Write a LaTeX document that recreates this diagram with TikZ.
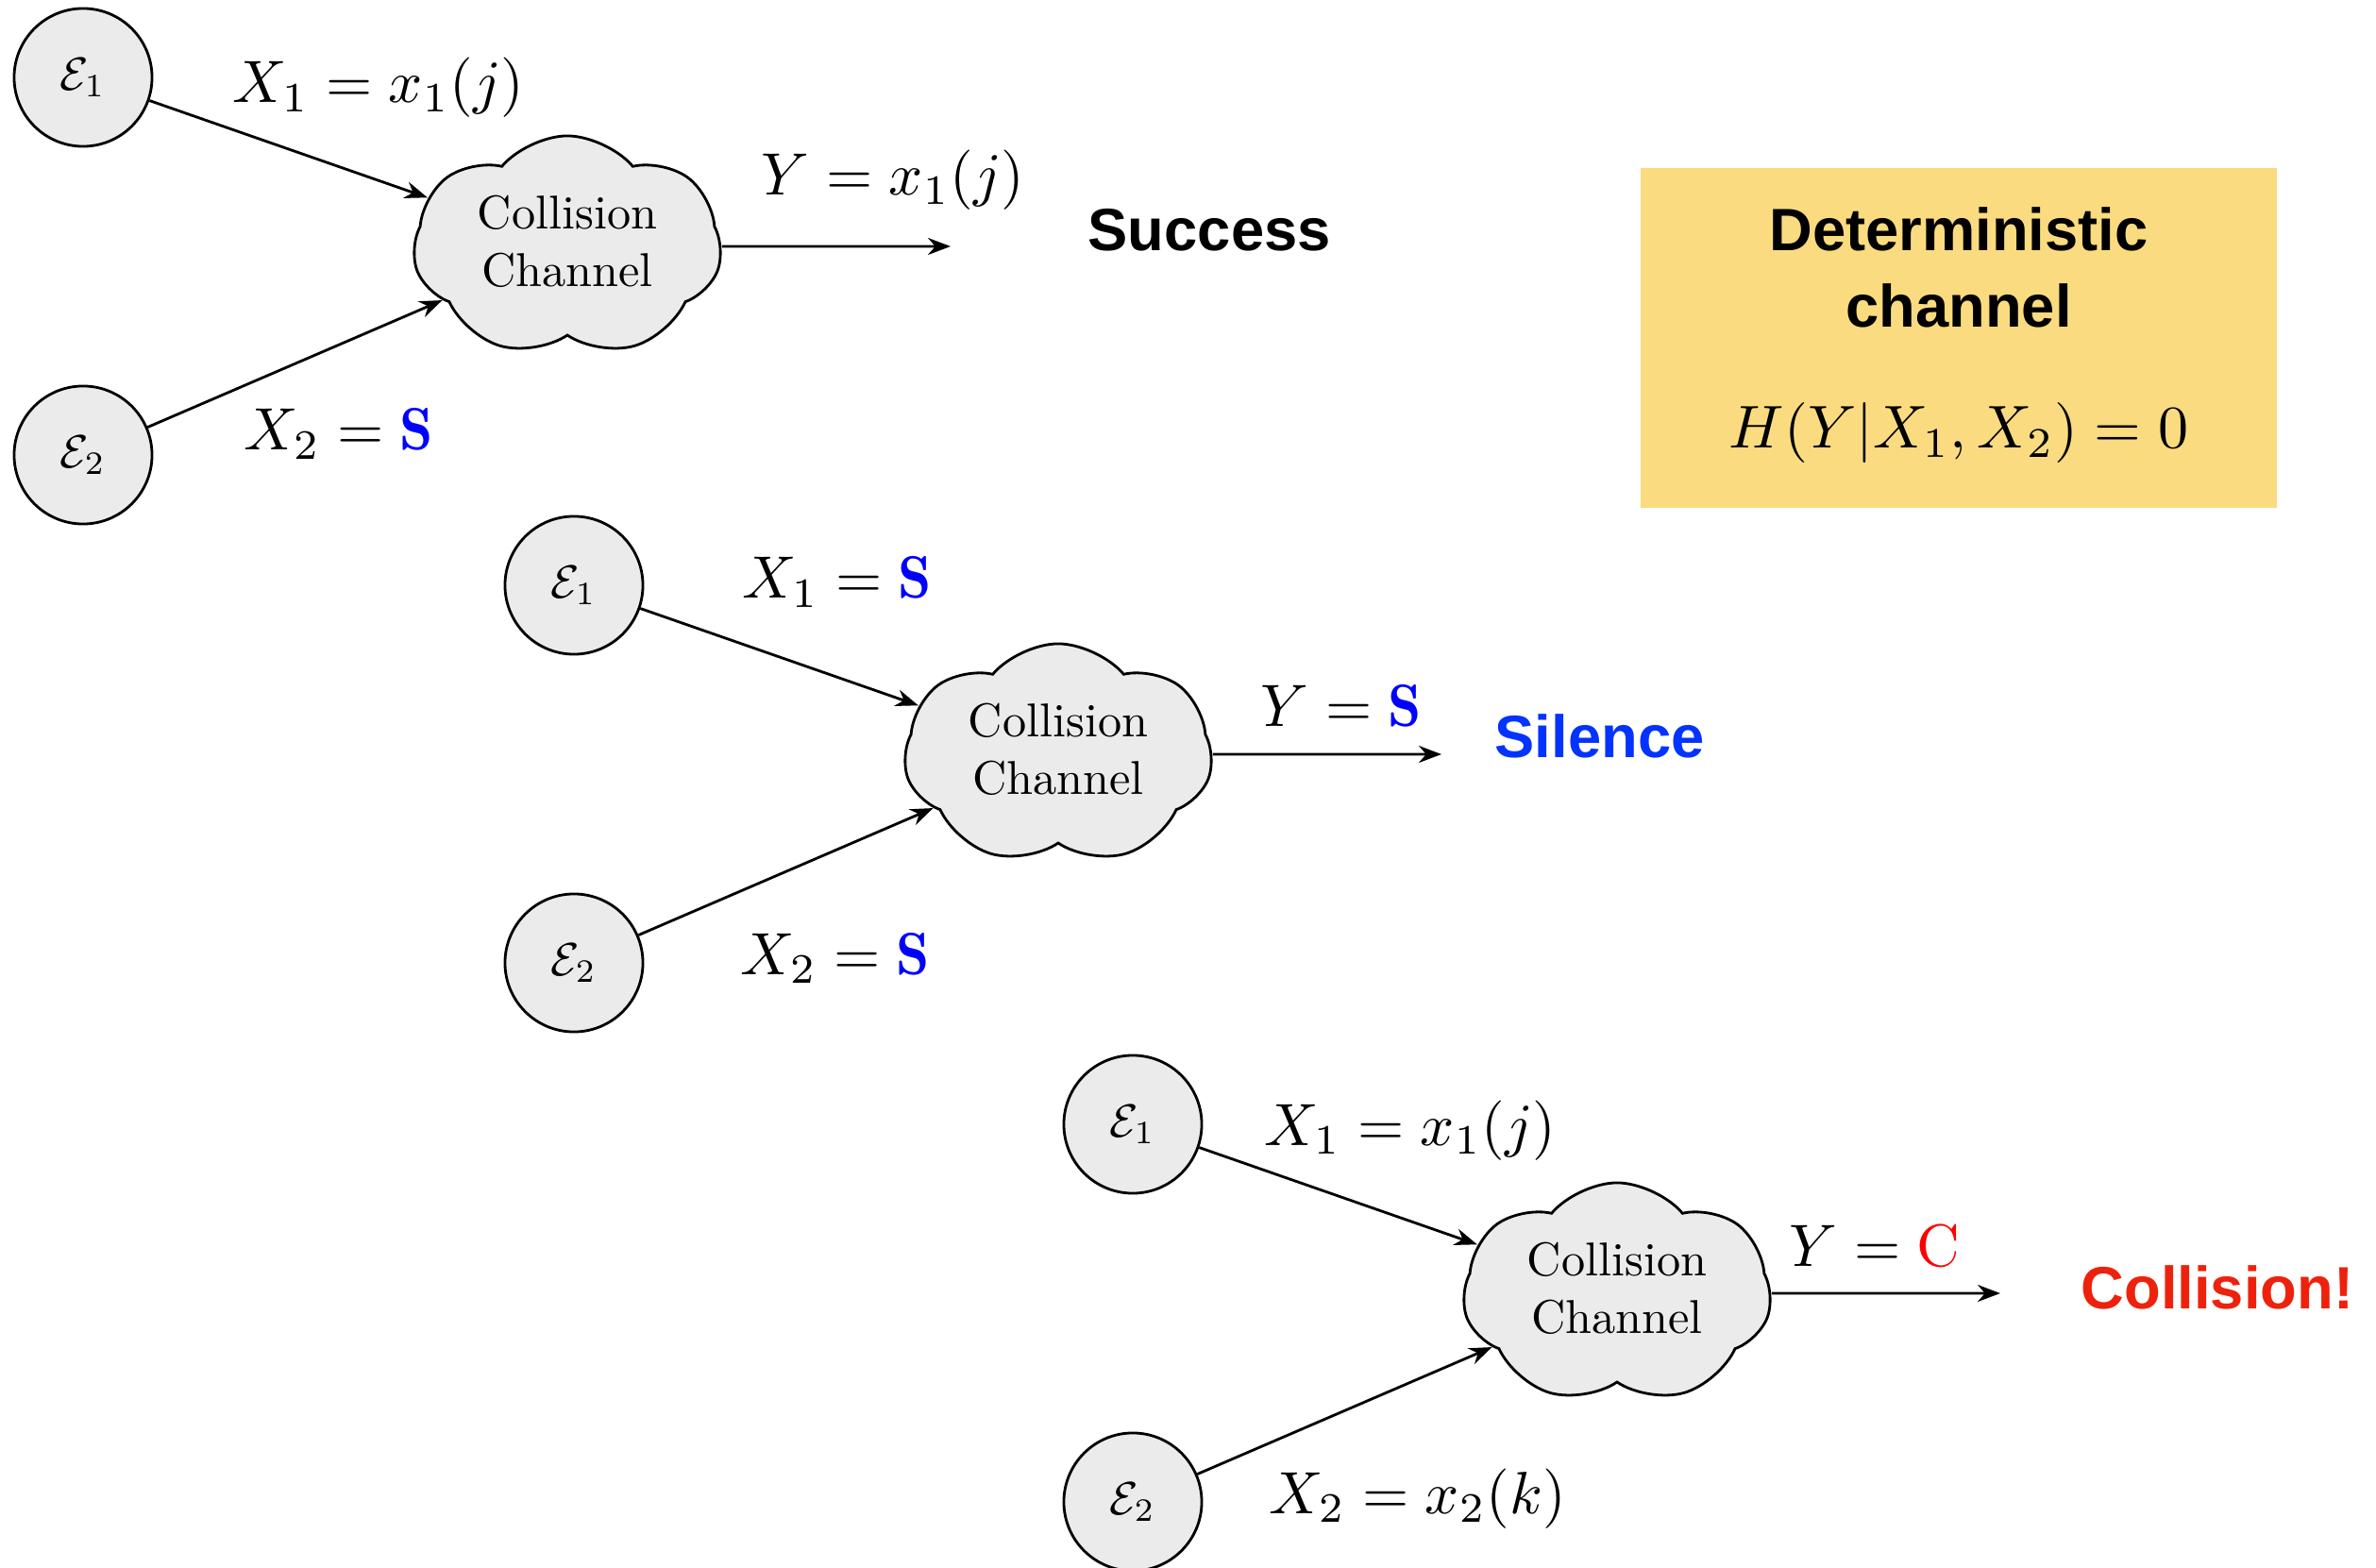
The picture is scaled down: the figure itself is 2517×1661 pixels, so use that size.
\documentclass[tikz,border=0pt]{standalone}
\usepackage{fontspec}
\usepackage{graphicx}
\newfontfamily\hel{Liberation Sans}
\usetikzlibrary{shapes.symbols,arrows.meta}
\definecolor{cloudgray}{HTML}{EBEBEB}
\definecolor{boxyellow}{HTML}{FADB7F}
\definecolor{silblue}{HTML}{0433FF}
\definecolor{colred}{HTML}{EE220C}
\newcommand{\ML}[1]{\scalebox{1.8}{$#1$}}
\newcommand{\SB}{\textcolor{blue}{\mathbf{S}}}
\newcommand{\CC}{\raisebox{-0.05cm}{\scalebox{1.43}{\begin{tabular}{@{}c@{}}Collision\\Channel\end{tabular}}}}
\newcommand{\EN}[1]{\scalebox{1.4}{$\mathcal{E}_{#1}$}}
\begin{document}
\begin{tikzpicture}[x=0.01cm,y=-0.01cm,
  ent/.style={circle,draw,fill=cloudgray,line width=0.8pt,minimum size=1.46cm,inner sep=0pt},
  chan/.style={cloud,cloud puffs=7,cloud puff arc=100,aspect=1.4,shape border rotate=10,draw,fill=cloudgray,line width=0.8pt,minimum width=3.26cm,minimum height=2.34cm,inner sep=0pt},
  conn/.style={-{Stealth[length=0.24cm,width=0.18cm]},line width=0.8pt},
  lab/.style={anchor=base west,inner sep=0pt},
  res/.style={anchor=base west,inner sep=0pt,font=\hel\bfseries\fontsize{18}{22}\selectfont}]
\useasboundingbox (0,0) rectangle (2517,1661);

% Group 1
\begin{scope}
\node[ent] (e11) at (88,82) {\EN{1}};
\node[ent] (e21) at (88,482) {\EN{2}};
\node[chan] (c1) at (601,261) {\CC};
\coordinate (o1) at (1007,261);
\draw[conn] (e11) -- (c1);
\draw[conn] (e21) -- (c1);
\draw[conn] (c1) -- (o1);
\node[lab] (l11) at (246,109) {\ML{X_1 = x_1(j)}};
\node[lab] (l21) at (258,477) {\ML{X_2 = \SB}};
\node[lab] (ly1) at (806,207) {\ML{Y = x_1(j)}};
\node[res] (r1) at (1152,266) {Success};
\end{scope}

% Group 2
\begin{scope}[shift={(520,538)}]
\node[ent] (e12) at (88,82) {\EN{1}};
\node[ent] (e22) at (88,482) {\EN{2}};
\node[chan] (c2) at (601,261) {\CC};
\coordinate (o2) at (1007,261);
\draw[conn] (e12) -- (c2);
\draw[conn] (e22) -- (c2);
\draw[conn] (c2) -- (o2);
\node[lab] (l12) at (266,96) {\ML{X_1 = \SB}};
\node[lab] (l22) at (264,494) {\ML{X_2 = \SB}};
\node[lab] (ly2) at (815,231) {\ML{Y = \SB}};
\node[res,text=silblue] (r2) at (1063,265) {Silence};
\end{scope}

% Group 3
\begin{scope}[shift={(1112,1109)}]
\node[ent] (e13) at (88,82) {\EN{1}};
\node[ent] (e23) at (88,482) {\EN{2}};
\node[chan] (c3) at (601,261) {\CC};
\coordinate (o3) at (1007,261);
\draw[conn] (e13) -- (c3);
\draw[conn] (e23) -- (c3);
\draw[conn] (c3) -- (o3);
\node[lab] (l13) at (227,104) {\ML{X_1 = x_1(j)}};
\node[lab] (l23) at (232,494) {\ML{X_2 = x_2(k)}};
\node[lab] (ly3) at (783,232) {\ML{Y = \textcolor{red}{\mathrm{C}}}};
\node[res,text=colred] (r3) at (1092,277) {Collision!};
\end{scope}

% Box
\node[fill=boxyellow,minimum width=6.74cm,minimum height=3.6cm,inner sep=0pt] (box) at (2075,358) {};
\node[res,anchor=base] (bt1) at (2075,266) {Deterministic};
\node[res,anchor=base] (bt2) at (2075,347) {channel};
\node[anchor=base,inner sep=0pt] (bh) at (2075,475) {\scalebox{1.82}{$H(Y|X_1,X_2)=0$}};
\end{tikzpicture}
\end{document}
